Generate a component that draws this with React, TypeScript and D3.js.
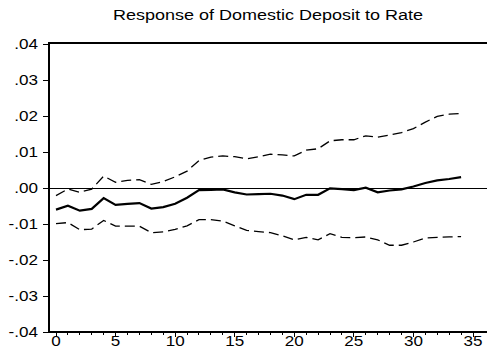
import React from "react";
import * as d3 from "d3";

const title = "Response of Domestic Deposit to Rate";
const periods = d3.range(0, 35);
const response = [
  -0.006, -0.0049, -0.0063, -0.0058, -0.0028, -0.0047, -0.0044, -0.0042, -0.0057, -0.0053,
  -0.0044, -0.0027, -0.0006, -0.0005, -0.0004, -0.0012, -0.0018, -0.0017, -0.0016, -0.0021,
  -0.0031, -0.0019, -0.0019, -0.0001, -0.0003, -0.0006, 0.0001, -0.0012, -0.0007, -0.0004,
  0.0004, 0.0014, 0.0021, 0.0025, 0.003,
];
const upperBand = [
  -0.0021, -0.0003, -0.0012, -0.0003, 0.0033, 0.0016, 0.0021, 0.0023, 0.001, 0.0018,
  0.0031, 0.0047, 0.0076, 0.0086, 0.0089, 0.0087, 0.0081, 0.0087, 0.0094, 0.0092,
  0.0089, 0.0105, 0.0109, 0.0131, 0.0134, 0.0134, 0.0145, 0.0141, 0.0147, 0.0154,
  0.0165, 0.0183, 0.0199, 0.0205, 0.0207,
];
const lowerBand = [
  -0.0099, -0.0096, -0.0116, -0.0114, -0.009, -0.0106, -0.0106, -0.0106, -0.0124, -0.0122,
  -0.0115, -0.0105, -0.0088, -0.0088, -0.0092, -0.0105, -0.0118, -0.0121, -0.0124, -0.0133,
  -0.0144, -0.0137, -0.0144, -0.0127, -0.0137, -0.0138, -0.0136, -0.0144, -0.0159, -0.0159,
  -0.015, -0.0139, -0.0137, -0.0136, -0.0135,
];
const yTicks = [0.04, 0.03, 0.02, 0.01, 0, -0.01, -0.02, -0.03, -0.04];
const xMajor = [0, 5, 10, 15, 20, 25, 30, 35];
const xMinor = d3.range(0, 36);

const W = 487;
const H = 362;
const left = 49;
const top = 43;
const bottom = 332;
const right = 488;

const fmtY = (v: number) => {
  if (v === 0) return ".00";
  const s = Math.abs(v).toFixed(2).replace(/^0/, "");
  return (v < 0 ? "-" : "") + s;
};

export default function App() {
  const x = d3.scaleLinear().domain([0, 35]).range([56, 473]);
  const y = d3.scaleLinear().domain([-0.04, 0.04]).range([bottom, 44]);
  const line = d3
    .line<number>()
    .x((_, i) => x(periods[i]))
    .y((d) => y(d));

  const font = "'Liberation Sans', Arial, sans-serif";
  const sx = 1.22;

  return (
    <svg
      width={W}
      height={H}
      style={{ position: "absolute", left: 0, top: 0, background: "#fff" }}
    >
      <text
        x={268}
        y={20}
        textAnchor="middle"
        fontFamily={font}
        fontSize={14}
        textLength={310}
        lengthAdjust="spacingAndGlyphs"
        fill="#000"
      >
        {title}
      </text>

      {/* zero line */}
      <line
        x1={left}
        x2={right}
        y1={y(0)}
        y2={y(0)}
        stroke="#000"
        strokeWidth={1}
        shapeRendering="crispEdges"
      />

      {/* frame */}
      <path
        d={`M${left},${bottom} L${left},${top} L${right},${top} M${left},${bottom} L${right},${bottom}`}
        fill="none"
        stroke="#000"
        strokeWidth={2}
        shapeRendering="crispEdges"
      />

      {/* y ticks */}
      {yTicks.map((t) => (
        <g key={t}>
          <line
            x1={left - 6}
            x2={left}
            y1={y(t)}
            y2={y(t)}
            stroke="#000"
            strokeWidth={1}
            shapeRendering="crispEdges"
          />
          <text
            transform={`translate(38,${y(t) + 5}) scale(${sx},1)`}
            textAnchor="end"
            fontFamily={font}
            fontSize={14}
            fill="#000"
          >
            {fmtY(t)}
          </text>
        </g>
      ))}

      {/* x ticks */}
      {xMinor.map((t) => (
        <line
          key={t}
          x1={x(t)}
          x2={x(t)}
          y1={bottom}
          y2={bottom + (t % 5 === 0 ? 5 : 3)}
          stroke="#000"
          strokeWidth={1}
          shapeRendering="crispEdges"
        />
      ))}
      {xMajor.map((t) => (
        <text
          key={t}
          transform={`translate(${x(t)},346) scale(${sx},1)`}
          textAnchor="middle"
          fontFamily={font}
          fontSize={14}
          fill="#000"
        >
          {t}
        </text>
      ))}

      <path d={line(upperBand) ?? ""} fill="none" stroke="#000" strokeWidth={1.3} strokeDasharray="10,5" />
      <path d={line(lowerBand) ?? ""} fill="none" stroke="#000" strokeWidth={1.3} strokeDasharray="10,5" />
      <path d={line(response) ?? ""} fill="none" stroke="#000" strokeWidth={2.2} />
    </svg>
  );
}
